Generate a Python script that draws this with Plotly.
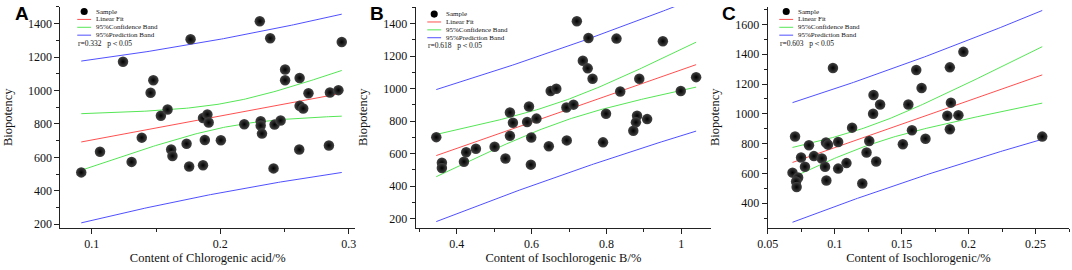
import numpy as np
import plotly.graph_objects as go

# ---------------- data ----------------
chlorogenic_x = [0.1243, 0.1769, 0.2308, 0.2389, 0.2946, 0.1479, 0.1458, 0.1538, 0.1590, 0.1866,
                 0.1900, 0.1910, 0.2187, 0.2315, 0.2315, 0.2325, 0.2423, 0.2470, 0.2505, 0.2505,
                 0.2618, 0.2618, 0.2646, 0.2687, 0.2854, 0.2920, 0.0918, 0.1064, 0.1310, 0.1389,
                 0.1618, 0.1628, 0.1738, 0.1758, 0.1866, 0.1880, 0.2005, 0.2415, 0.2615, 0.2846]
chlorogenic_y = [1172, 1306, 1414, 1312, 1290, 1061, 986, 849, 886, 835,
                 857, 808, 798, 816, 790, 742, 796, 820, 1125, 1061,
                 1075, 908, 892, 984, 988, 1002, 510, 634, 573, 718,
                 647, 608, 681, 545, 553, 704, 702, 534, 647, 671]

isoB_x = [0.721, 0.752, 0.827, 0.951, 0.737, 0.750, 0.763, 0.651, 0.666, 0.888,
          0.837, 0.999, 1.040, 0.542, 0.550, 0.593, 0.588, 0.613, 0.693, 0.712,
          0.799, 0.882, 0.879, 0.909, 0.872, 0.345, 0.360, 0.360, 0.419, 0.425,
          0.451, 0.501, 0.530, 0.542, 0.599, 0.598, 0.646, 0.694, 0.791]
isoB_y = [1414, 1311, 1307, 1291, 1171, 1124, 1060, 985, 999, 1060,
          982, 985, 1070, 853, 790, 889, 794, 815, 883, 901,
          845, 833, 792, 812, 740, 701, 544, 511, 550, 608,
          630, 642, 570, 709, 699, 532, 645, 681, 669]

iso_x = [0.0987, 0.1609, 0.1860, 0.1961, 0.1649, 0.1290, 0.1339, 0.1550, 0.1287, 0.1868,
         0.1841, 0.1924, 0.1130, 0.1577, 0.1860, 0.0704, 0.2550, 0.0808, 0.0935, 0.0950,
         0.1026, 0.1258, 0.1509, 0.1678, 0.0749, 0.0845, 0.0904, 0.0778, 0.0685, 0.0727,
         0.0712, 0.0716, 0.0928, 0.0938, 0.1026, 0.1088, 0.1238, 0.1310, 0.1206]
iso_y = [1308, 1294, 1312, 1416, 1173, 1126, 1062, 1062, 1000, 1075,
         987, 991, 907, 889, 896, 848, 847, 789, 807, 793,
         811, 818, 796, 833, 707, 716, 700, 645, 605, 572,
         545, 508, 645, 552, 632, 669, 740, 680, 532]

panel_letters = ["A", "B", "C"]
x_titles = ["Content of Chlorogenic acid/%", "Content of Isochlorogenic B/%", "Content of Isochlorogenic/%"]
y_title = "Biopotency"
r_labels = ["r=0.332   p\uff1c0.05", "r=0.618   p\uff1c0.05", "r=0.603   p\uff1c0.05"]
legend_names = ["Sample", "Linear Fit", "95%Confidence Band", "95%Prediction Band"]

x_ranges = [[0.0756, 0.305], [0.29, 1.08], [0.05, 0.275]]
y_ranges = [[180, 1500], [145, 1502], [236, 1718]]
x_dticks = [0.1, 0.2, 0.05]
x_minor = [0.05, 0.1, 0.025]

# ---------------- layout geometry (pixels) ----------------
W, H = 1072, 270
plot_left = [50, 409.3, 765.3]
plot_right = [348, 708, 1070]
plot_top, plot_bottom = 7, 231
legend_line_x0 = [67, 421, 777]
legend_top = [11.7, 14.3, 11.7]
row_gap = 8.0

SERIF = "Liberation Serif, Times New Roman, serif"
RED, GREEN, BLUE = "#ff5050", "#55e655", "#5050ff"
T975 = 2.026  # Student t quantile, df ~ 37


def px(x):
    return x / W


def py(y):
    return 1 - y / H


def bands(x, y):
    x = np.asarray(x, float)
    y = np.asarray(y, float)
    n = len(x)
    b, a = np.polyfit(x, y, 1)
    res = y - (a + b * x)
    s = np.sqrt(np.sum(res ** 2) / (n - 2))
    xm = x.mean()
    sxx = np.sum((x - xm) ** 2)
    xs = np.linspace(x.min(), x.max(), 120)
    yh = a + b * xs
    c = T975 * s * np.sqrt(1 / n + (xs - xm) ** 2 / sxx)
    p = T975 * s * np.sqrt(1 + 1 / n + (xs - xm) ** 2 / sxx)
    return xs, yh, yh - c, yh + c, yh - p, yh + p


fig = go.Figure()
datasets = [(chlorogenic_x, chlorogenic_y), (isoB_x, isoB_y), (iso_x, iso_y)]
shapes = []
annotations = []

for i, (xd, yd) in enumerate(datasets):
    ax = "" if i == 0 else str(i + 1)
    xs, yh, cl, cu, pl, pu = bands(xd, yd)
    for yy, col in [(pu, BLUE), (pl, BLUE), (cu, GREEN), (cl, GREEN), (yh, RED)]:
        fig.add_trace(go.Scatter(x=xs, y=yy, mode="lines", line=dict(color=col, width=1),
                                 xaxis="x" + ax, yaxis="y" + ax, showlegend=False, hoverinfo="skip"))
    fig.add_trace(go.Scatter(x=xd, y=yd, mode="markers",
                             marker=dict(size=10.5, color="#444444", line=dict(width=0),
                                         gradient=dict(type="radial", color="#000000")),
                             xaxis="x" + ax, yaxis="y" + ax, showlegend=False))

    dom_x = [px(plot_left[i]), px(plot_right[i])]
    dom_y = [py(plot_bottom), py(plot_top)]
    common = dict(showline=True, linecolor="#222", linewidth=1, ticks="outside", ticklen=5,
                  tickcolor="#222", showgrid=False, zeroline=False,
                  tickfont=dict(family=SERIF, size=12, color="#111"))
    fig.layout["xaxis" + ax] = dict(domain=dom_x, range=x_ranges[i], anchor="y" + ax,
                                    dtick=x_dticks[i], tick0=0,
                                    minor=dict(dtick=x_minor[i], ticks="outside", ticklen=3, tickcolor="#222"),
                                    title=dict(text=x_titles[i], font=dict(family=SERIF, size=12.5, color="#111"),
                                               standoff=3), **common)
    fig.layout["yaxis" + ax] = dict(domain=dom_y, range=y_ranges[i], anchor="x" + ax,
                                    dtick=200, tick0=0,
                                    minor=dict(dtick=100, ticks="outside", ticklen=3, tickcolor="#222"),
                                    title=dict(text=y_title, font=dict(family=SERIF, size=12.5, color="#111"),
                                               standoff=12), **common)

    # panel letter
    annotations.append(dict(text="<b>" + panel_letters[i] + "</b>", x=px(plot_left[i] - 48),
                            y=py(14), xref="paper", yref="paper", showarrow=False, xanchor="left",
                            yanchor="middle", font=dict(family="Liberation Sans, Arial", size=19, color="#000")))

    # hand-made legend
    x0 = legend_line_x0[i]
    top = legend_top[i]
    mx = x0 + 7
    r = 3.6
    shapes.append(dict(type="circle", xref="paper", yref="paper", x0=px(mx - r), x1=px(mx + r),
                       y0=py(top + r), y1=py(top - r), fillcolor="#000", line=dict(width=0)))
    tx = x0 + 17
    annotations.append(dict(text=legend_names[0], x=px(tx), y=py(top), xref="paper", yref="paper",
                            showarrow=False, xanchor="left", yanchor="middle",
                            font=dict(family=SERIF, size=7, color="#111")))
    for k, col in enumerate([RED, GREEN, BLUE]):
        yy = top + row_gap * (k + 1)
        shapes.append(dict(type="line", xref="paper", yref="paper", x0=px(x0), x1=px(x0 + 14),
                           y0=py(yy), y1=py(yy), line=dict(color=col, width=1)))
        annotations.append(dict(text=legend_names[k + 1], x=px(tx), y=py(yy), xref="paper", yref="paper",
                                showarrow=False, xanchor="left", yanchor="middle",
                                font=dict(family=SERIF, size=7, color="#111")))
    annotations.append(dict(text=r_labels[i], x=px(x0 - 1), y=py(top + row_gap * 4), xref="paper", yref="paper",
                            showarrow=False, xanchor="left", yanchor="middle",
                            font=dict(family=SERIF, size=7.5, color="#111")))

fig.update_layout(width=W, height=H, margin=dict(l=0, r=0, t=0, b=0),
                  paper_bgcolor="white", plot_bgcolor="white",
                  shapes=shapes, annotations=annotations, showlegend=False)

fig.write_html("out.html", config={"displayModeBar": False},
               post_script="document.body.style.margin='0';document.body.style.padding='0';"
                           "document.documentElement.style.overflow='hidden';")
